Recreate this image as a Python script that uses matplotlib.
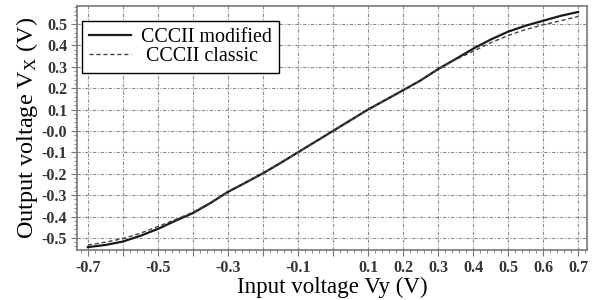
import matplotlib
matplotlib.use("Agg")
import matplotlib.pyplot as plt
from matplotlib.ticker import MultipleLocator

plt.rcParams['font.family'] = ['Liberation Serif', 'DejaVu Serif']
plt.rcParams['mathtext.fontset'] = 'custom'
plt.rcParams['mathtext.rm'] = 'Liberation Serif'
plt.rcParams['mathtext.it'] = 'Liberation Serif'

# input voltage Vy (V)
vy = [-0.70, -0.65, -0.60, -0.55, -0.50, -0.45, -0.40, -0.35, -0.30, -0.25,
      -0.20, -0.15, -0.10, -0.05, 0.00, 0.05, 0.10, 0.15, 0.20, 0.25,
      0.30, 0.35, 0.40, 0.45, 0.50, 0.55, 0.60, 0.65, 0.70]
# output voltage Vx (V)
vx_modified = [-0.543, -0.533, -0.517, -0.490, -0.458, -0.420, -0.384, -0.337, -0.285, -0.242,
               -0.198, -0.150, -0.100, -0.050, 0.000, 0.050, 0.100, 0.145, 0.190, 0.236,
               0.289, 0.336, 0.384, 0.427, 0.464, 0.492, 0.515, 0.538, 0.556]
vx_classic = [-0.533, -0.520, -0.503, -0.478, -0.447, -0.414, -0.380, -0.335, -0.284, -0.242,
              -0.198, -0.150, -0.100, -0.050, 0.000, 0.050, 0.100, 0.145, 0.190, 0.236,
              0.288, 0.333, 0.372, 0.412, 0.446, 0.474, 0.496, 0.515, 0.535]

xticks = [-0.7, -0.6, -0.5, -0.4, -0.3, -0.2, -0.1, 0.0, 0.1, 0.2, 0.3, 0.4, 0.5, 0.6, 0.7]
xticklabels = ["-0.7", "", "-0.5", "", "-0.3", "", "-0.1", "", "0.1", "0.2", "0.3",
               "0.4", "0.5", "0.6", "0.7"]
yticks = [0.5, 0.4, 0.3, 0.2, 0.1, 0.0, -0.1, -0.2, -0.3, -0.4, -0.5]
yticklabels = ["0.5", "0.4", "0.3", "0.2", "0.1", "-0.0", "-0.1", "-0.2", "-0.3", "-0.4", "-0.5"]

fig = plt.figure(figsize=(5.92, 3.0), dpi=100)
ax = fig.add_axes([0.130, 0.167, 0.862, 0.813])

ax.plot(vy, vx_modified, color="#1a1a1a", lw=1.6, label="CCCII modified", zorder=3)
ax.plot(vy, vx_classic, color="#444444", lw=1.0, ls=(0, (3, 2)), label=" CCCII classic", zorder=3)

ax.set_xlim(-0.731, 0.726)
ax.set_ylim(-0.556, 0.584)
ax.set_xticks(xticks)
ax.set_xticklabels(xticklabels)
ax.set_yticks(yticks)
ax.set_yticklabels(yticklabels)
ax.xaxis.set_minor_locator(MultipleLocator(0.02))
ax.yaxis.set_minor_locator(MultipleLocator(0.02))
ax.tick_params(which="major", direction="out", length=4, width=0.8, color="#777777",
               labelsize=11.5, labelcolor="#333333", pad=3)
ax.tick_params(which="minor", direction="out", length=2.5, width=0.6, color="#777777")
for lab in ax.get_xticklabels() + ax.get_yticklabels():
    lab.set_fontweight("bold")

ax.grid(True, which="major", color="#8a8a8a", lw=0.8, ls=(0, (3, 1.5, 1, 1.5)))
for sp in ax.spines.values():
    sp.set_color("#777777")
    sp.set_linewidth(1.2)

ax.set_xlabel("Input voltage Vy (V)", fontsize=16.6, labelpad=1)
ax.set_ylabel(r"Output voltage V$_\mathrm{X}$ (V)", fontsize=17.5, labelpad=1)

leg = ax.legend(loc="upper left", bbox_to_anchor=(0.0098, 0.9385), borderaxespad=0,
                fontsize=14.4, frameon=True, fancybox=False, edgecolor="black",
                handlelength=2.1, borderpad=0.35, labelspacing=0.0, handletextpad=0.5)
leg.get_frame().set_linewidth(1.0)
leg.get_frame().set_alpha(1.0)

fig.savefig("out.png", dpi=100)
